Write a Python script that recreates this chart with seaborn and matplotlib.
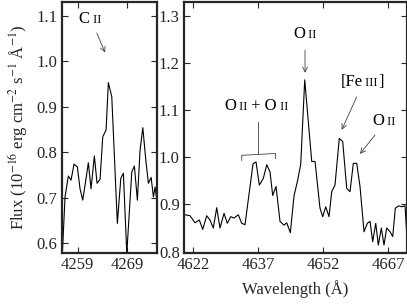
import numpy as np
import pandas as pd
import matplotlib
matplotlib.use("Agg")
import matplotlib.pyplot as plt
import seaborn as sns
from matplotlib.offsetbox import TextArea, HPacker, AnnotationBbox

# Widmo C II (lewy panel)
wl_c = [4255.86, 4256.41, 4257.08, 4257.63, 4258.24, 4258.92, 4259.47, 4260.02,
        4260.59, 4261.16, 4261.71, 4262.39, 4262.94, 4263.55, 4264.10, 4264.78,
        4265.24, 4265.94, 4267.08, 4267.78, 4268.31, 4269.00, 4270.02, 4270.55,
        4271.16, 4271.71, 4272.27, 4272.88, 4273.41, 4273.96, 4274.43, 4274.78,
        4275.12]
flux_c = [0.577, 0.702, 0.748, 0.739, 0.774, 0.768, 0.720, 0.695,
          0.735, 0.777, 0.720, 0.792, 0.732, 0.741, 0.834, 0.849,
          0.953, 0.922, 0.644, 0.743, 0.754, 0.578, 0.757, 0.770,
          0.695, 0.805, 0.854, 0.783, 0.732, 0.745, 0.702, 0.724,
          0.695]

# Widmo O II / [Fe III] (prawy panel)
wl_o = [4620.08, 4621.24, 4622.39, 4623.38, 4624.17, 4625.09, 4625.85, 4626.62,
        4627.40, 4628.16, 4629.09, 4629.85, 4630.63, 4631.39, 4632.39, 4633.17,
        4633.93, 4635.78, 4636.47, 4637.23, 4638.15, 4638.94, 4639.70, 4640.32,
        4641.09, 4642.01, 4642.93, 4643.56, 4644.39, 4645.24, 4646.05, 4646.79,
        4647.71, 4649.33, 4650.09, 4651.24, 4651.86, 4652.56, 4653.32, 4653.94,
        4654.70, 4655.69, 4656.48, 4657.40, 4658.16, 4658.93, 4659.71, 4660.47,
        4661.40, 4662.16, 4662.78, 4663.40, 4664.10, 4664.70, 4665.39, 4666.01,
        4666.63, 4667.40, 4668.02, 4668.62, 4669.40, 4670.10, 4670.86, 4671.25]
flux_o = [0.878, 0.876, 0.861, 0.867, 0.847, 0.876, 0.867, 0.850,
          0.893, 0.850, 0.881, 0.860, 0.874, 0.871, 0.878, 0.860,
          0.857, 0.986, 0.990, 0.941, 0.955, 0.984, 0.969, 0.919,
          0.938, 0.864, 0.856, 0.861, 0.840, 0.918, 0.950, 0.985,
          1.164, 0.991, 0.991, 0.892, 0.874, 0.895, 0.874, 0.927,
          0.941, 1.040, 1.033, 0.934, 0.927, 0.987, 0.987, 0.938,
          0.842, 0.860, 0.864, 0.821, 0.860, 0.814, 0.850, 0.814,
          0.850, 0.842, 0.832, 0.892, 0.897, 0.895, 0.897, 0.838]

xticks_c = [4259, 4269]
yticks_c = [0.6, 0.7, 0.8, 0.9, 1.0, 1.1]
xticks_o = [4622, 4637, 4652, 4667]
yticks_o = [0.8, 0.9, 1.0, 1.1, 1.2, 1.3]

sns.set_style("ticks")
plt.rcParams["font.family"] = ["Liberation Serif", "DejaVu Serif"]
plt.rcParams["mathtext.fontset"] = "stix"
plt.rcParams["font.size"] = 12
FONT = "Liberation Serif"

fig = plt.figure(figsize=(4.07, 3.05), dpi=100)
ax1 = fig.add_axes([61.7 / 407, 52 / 305, 95 / 407, 251 / 305])
ax2 = fig.add_axes([184 / 407, 52 / 305, 222.5 / 407, 251 / 305])

df_c = pd.DataFrame({"wl": wl_c, "flux": flux_c})
df_o = pd.DataFrame({"wl": wl_o, "flux": flux_o})
sns.lineplot(data=df_c, x="wl", y="flux", ax=ax1, color="black", lw=0.8,
             sort=False, estimator=None)
sns.lineplot(data=df_o, x="wl", y="flux", ax=ax2, color="black", lw=0.8,
             sort=False, estimator=None)

ax1.set_xlim(4255.73, 4275.1)
ax1.set_ylim(0.579, 1.130)
ax2.set_xlim(4619.85, 4671.2)
ax2.set_ylim(0.797, 1.329)
ax1.set_xticks(xticks_c)
ax1.set_yticks(yticks_c)
ax2.set_xticks(xticks_o)
ax2.set_yticks(yticks_o)
ax1.set_yticklabels([f"{v:.1f}" for v in yticks_c])
ax2.set_yticklabels([f"{v:.1f}" for v in yticks_o])

for ax in (ax1, ax2):
    for sp in ax.spines.values():
        sp.set_visible(True)
        sp.set_linewidth(1.6)
    ax.tick_params(direction="in", top=True, right=True, length=4, width=0.8,
                   labelsize=12, pad=3)
    ax.set_xlabel("")
    ax.set_ylabel("")

ax1.set_ylabel("Flux (10$^{-16}$ erg cm$^{-2}$ s$^{-1}$ Å$^{-1}$)", fontsize=12,
               va="center")
ax1.yaxis.set_label_coords(-0.465, 0.5)
ax2.set_xlabel("Wavelength (Å)", fontsize=12, va="center")
ax2.xaxis.set_label_coords(0.5, -0.143)


def etykieta(ax, x, y, czesci):
    boxes = [TextArea(s, textprops=dict(size=sz, family=FONT, color="black"))
             for s, sz in czesci]
    pack = HPacker(children=boxes, align="baseline", pad=0, sep=0)
    ab = AnnotationBbox(pack, (x, y), xycoords="data", frameon=False,
                        box_alignment=(0.5, 0.5), pad=0)
    ax.add_artist(ab)


def strzalka(ax, tail, tip):
    ax.annotate("", xy=tip, xytext=tail,
                arrowprops=dict(arrowstyle="->", lw=0.6, color="0.25",
                                shrinkA=0, shrinkB=0, mutation_scale=9))


# Opisy linii
etykieta(ax1, 4261.5, 1.093, [("C", 12), (" II", 9)])
strzalka(ax1, (4262.88, 1.062), (4264.57, 1.019))

etykieta(ax2, 4647.78, 1.261, [("O", 12), (" II", 9)])
strzalka(ax2, (4647.78, 1.227), (4647.78, 1.179))

etykieta(ax2, 4660.9, 1.160, [("[Fe", 12), (" III", 9), ("]", 12)])
strzalka(ax2, (4659.71, 1.128), (4656.25, 1.058))

etykieta(ax2, 4666.0, 1.077, [("O", 12), (" II", 9)])
strzalka(ax2, (4663.93, 1.047), (4660.47, 1.007))

etykieta(ax2, 4636.47, 1.109, [("O", 12), (" II", 9), (" + O", 12), (" II", 9)])
ax2.plot([4636.82, 4636.82], [1.075, 1.006], color="0.25", lw=0.6)
ax2.plot([4633.17, 4633.17, 4640.97, 4640.97], [0.993, 1.004, 1.008, 0.997],
         color="0.25", lw=0.6)

fig.savefig("out.png", dpi=100)
